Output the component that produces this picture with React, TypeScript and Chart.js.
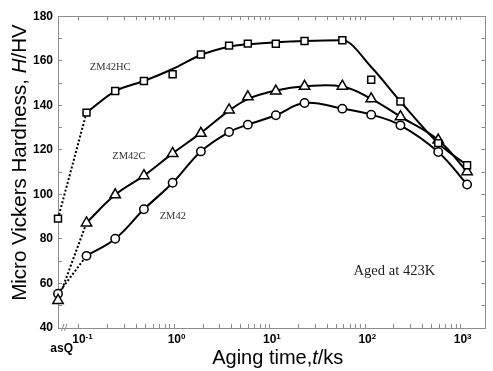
import React, { useEffect, useRef } from 'react';
import { Chart, registerables } from 'chart.js';

Chart.register(...registerables);

// ---------- data ----------
const agingTimes = [0.12, 0.24, 0.48, 0.96, 1.9, 3.75, 5.9, 11.6, 23.2, 57.8, 116, 235, 585, 1175];
const asQTime = 0.0603; // "asQ" (as-quenched) state, drawn at the left end of the axis

const zm42hcHardness = [136.7, 146.4, 150.9, 153.9, 162.8, 166.8, 167.7, 167.6, 168.9, 169.2, 151.5, 141.7, 123.0, 113.1];
const zm42hcCurve = [136.7, 146.4, 150.9, 156.3, 162.6, 166.3, 167.4, 168.3, 168.9, 169.2, 157.2, 141.7, 123.0, 113.1];
const zm42hcAsQ = 89.1;

const zm42cHardness = [87.2, 99.8, 108.4, 118.4, 127.4, 137.9, 143.8, 146.4, 148.5, 148.6, 142.9, 134.9, 124.4, 110.2];
const zm42cCurve = [87.2, 99.8, 108.4, 118.4, 127.6, 137.6, 142.8, 146.6, 148.5, 148.4, 142.9, 134.9, 124.4, 110.2];
const zm42cAsQ = 52.4;

const zm42Hardness = [72.4, 80.1, 93.3, 105.2, 119.3, 128.0, 131.3, 135.5, 141.0, 138.5, 135.8, 131.0, 119.0, 104.4];
const zm42AsQ = 55.4;

const xTickValues = [
  0.1, 0.2, 0.3, 0.4, 0.5, 0.6, 0.7, 0.8, 0.9,
  1, 2, 3, 4, 5, 6, 7, 8, 9,
  10, 20, 30, 40, 50, 60, 70, 80, 90,
  100, 200, 300, 400, 500, 600, 700, 800, 900,
  1000,
];
const decadeExponents = [-1, 0, 1, 2, 3];
const yMin = 40;
const yMax = 180;
const yStep = 10;
const yLabelStep = 20;
const xMin = 0.0603;
const xMax = 1832;

const seriesLabels = [
  { text: 'ZM42HC', x: 0.2126, y: 156.9 },
  { text: 'ZM42C', x: 0.334, y: 117.1 },
  { text: 'ZM42', x: 0.963, y: 90.4 },
];
const conditionLabel = { text: 'Aged at 423K', x: 203, y: 65.4 };

const xTitleParts = [
  { text: 'Aging time,', italic: false },
  { text: 't', italic: true },
  { text: '/ks', italic: false },
];
const yTitleParts = [
  { text: 'Micro Vickers Hardness, ', italic: false },
  { text: 'H', italic: true },
  { text: '/HV', italic: false },
];

// ---------- styles ----------
const SANS = '"Liberation Sans", Arial, Helvetica, sans-serif';
const SERIF = '"Liberation Serif", "Times New Roman", serif';
const AXIS_COLOR = '#8c8c8c';
const INK = '#000000';

const pts = (xs: number[], ys: number[]) => xs.map((x, i) => ({ x, y: ys[i] }));

function drawParts(ctx: CanvasRenderingContext2D, parts: { text: string; italic: boolean }[], size: number, cx: number, baseline: number) {
  const fontOf = (it: boolean) => `${it ? 'italic ' : ''}${size}px ${SANS}`;
  let total = 0;
  for (const p of parts) {
    ctx.font = fontOf(p.italic);
    total += ctx.measureText(p.text).width;
  }
  let x = cx - total / 2;
  ctx.textAlign = 'left';
  ctx.textBaseline = 'alphabetic';
  for (const p of parts) {
    ctx.font = fontOf(p.italic);
    ctx.fillText(p.text, x, baseline);
    x += ctx.measureText(p.text).width;
  }
}

const decorPlugin = {
  id: 'decor',
  afterDraw(chart: any) {
    const { ctx, chartArea: ca, scales } = chart;
    const xs = scales.x;
    const ys = scales.y;
    ctx.save();

    // axis break mark "//"
    ctx.strokeStyle = AXIS_COLOR;
    ctx.lineWidth = 1;
    for (const dx of [3.5, 6.5]) {
      ctx.beginPath();
      ctx.moveTo(ca.left + dx, ca.bottom + 3);
      ctx.lineTo(ca.left + dx + 2.5, ca.bottom - 4);
      ctx.stroke();
    }

    // decade labels 10^n
    ctx.fillStyle = INK;
    ctx.textBaseline = 'alphabetic';
    ctx.textAlign = 'left';
    for (const e of decadeExponents) {
      const px = xs.getPixelForValue(Math.pow(10, e));
      ctx.font = `bold 12px ${SANS}`;
      const w = ctx.measureText('10').width;
      ctx.fillText('10', px - w / 2, ca.bottom + 15);
      ctx.font = `bold 8px ${SANS}`;
      ctx.fillText(String(e), px + w / 2, ca.bottom + 10.5);
    }
    // asQ label
    ctx.font = `bold 12px ${SANS}`;
    ctx.textAlign = 'center';
    ctx.fillText('asQ', xs.getPixelForValue(asQTime) + 3.7, ca.bottom + 24);

    // axis titles
    ctx.fillStyle = INK;
    drawParts(ctx, xTitleParts, 20, (ca.left + ca.right) / 2 + 6, ca.bottom + 36);
    ctx.save();
    ctx.translate(26, (ca.top + ca.bottom) / 2 - 9.5);
    ctx.rotate(-Math.PI / 2);
    drawParts(ctx, yTitleParts, 20.5, 0, 0);
    ctx.restore();

    // series labels
    ctx.fillStyle = '#333333';
    ctx.textAlign = 'center';
    ctx.textBaseline = 'middle';
    ctx.font = `10.5px ${SERIF}`;
    for (const l of seriesLabels) {
      ctx.fillText(l.text, xs.getPixelForValue(l.x), ys.getPixelForValue(l.y));
    }
    ctx.fillStyle = '#222222';
    ctx.font = `14.6px ${SERIF}`;
    ctx.fillText(conditionLabel.text, xs.getPixelForValue(conditionLabel.x), ys.getPixelForValue(conditionLabel.y));

    ctx.restore();
  },
};

export default function App() {
  const canvasRef = useRef<HTMLCanvasElement | null>(null);

  useEffect(() => {
    if (!canvasRef.current) return;

    const curve = (data: { x: number; y: number }[], monotone: boolean) => ({
      data,
      showLine: true,
      borderColor: INK,
      borderWidth: 2,
      pointRadius: 0,
      tension: 0.4,
      cubicInterpolationMode: monotone ? 'monotone' : 'default',
      fill: false,
      clip: false as const,
      order: 2,
    });
    const dotted = (data: { x: number; y: number }[]) => ({
      data,
      showLine: true,
      borderColor: INK,
      borderWidth: 2,
      borderDash: [2, 2],
      pointRadius: 0,
      tension: 0,
      fill: false,
      clip: false as const,
      order: 2,
    });
    const markers = (data: { x: number; y: number }[], style: string, r: number) => ({
      data,
      showLine: false,
      pointStyle: style,
      pointRadius: r,
      pointBorderWidth: 1.5,
      pointBorderColor: INK,
      pointBackgroundColor: '#ffffff',
      clip: false as const,
      order: 0,
    });

    const tickGrid = (len: number) => ({
      drawOnChartArea: false,
      drawTicks: true,
      tickLength: len,
      color: AXIS_COLOR,
      lineWidth: 1,
    });
    const border = { display: true, color: AXIS_COLOR, width: 1 };

    const chart = new Chart(canvasRef.current, {
      type: 'scatter',
      data: {
        datasets: [
          dotted([{ x: asQTime, y: zm42hcAsQ }, { x: agingTimes[0], y: zm42hcHardness[0] }]),
          dotted([{ x: asQTime, y: zm42cAsQ }, { x: agingTimes[0], y: zm42cHardness[0] }]),
          dotted([{ x: asQTime, y: zm42AsQ }, { x: agingTimes[0], y: zm42Hardness[0] }]),
          curve(pts(agingTimes, zm42hcCurve), true),
          curve(pts(agingTimes, zm42cCurve), false),
          curve(pts(agingTimes, zm42Hardness), false),
          markers([{ x: asQTime, y: zm42hcAsQ }, ...pts(agingTimes, zm42hcHardness)], 'rect', 4.9),
          markers([{ x: asQTime, y: zm42cAsQ }, ...pts(agingTimes, zm42cHardness)], 'triangle', 6),
          markers([{ x: asQTime, y: zm42AsQ }, ...pts(agingTimes, zm42Hardness)], 'circle', 4.2),
        ] as any,
      },
      options: {
        animation: false,
        responsive: true,
        maintainAspectRatio: false,
        layout: { padding: 0 },
        events: [],
        plugins: { legend: { display: false }, tooltip: { enabled: false }, title: { display: false } },
        scales: {
          x: {
            type: 'logarithmic',
            position: 'bottom',
            min: xMin,
            max: xMax,
            afterBuildTicks: (s: any) => { s.ticks = xTickValues.map((v) => ({ value: v })); },
            afterFit: (s: any) => { s.height = 43; },
            ticks: { display: false },
            grid: tickGrid(-4),
            border,
          },
          x2: {
            type: 'logarithmic',
            position: 'top',
            display: true,
            min: xMin,
            max: xMax,
            afterBuildTicks: (s: any) => { s.ticks = xTickValues.map((v) => ({ value: v })); },
            afterFit: (s: any) => { s.height = 16; },
            ticks: { display: false },
            grid: tickGrid(-4),
            border,
          },
          y: {
            type: 'linear',
            position: 'left',
            min: yMin,
            max: yMax,
            afterFit: (s: any) => { s.width = 58; },
            ticks: {
              stepSize: yStep,
              padding: 9,
              color: INK,
              font: { family: SANS, size: 12, weight: 'bold' },
              callback: (v: any) => (Number(v) % yLabelStep === 0 ? String(v) : ''),
            },
            grid: tickGrid(-4),
            border,
          },
          y2: {
            type: 'linear',
            position: 'right',
            display: true,
            min: yMin,
            max: yMax,
            afterFit: (s: any) => { s.width = 1; },
            ticks: { display: false, stepSize: yStep },
            grid: tickGrid(-4),
            border,
          },
        },
      } as any,
      plugins: [decorPlugin],
    });

    return () => chart.destroy();
  }, []);

  return (
    <div style={{ position: 'fixed', left: 0, top: 0, width: 493, height: 371, background: '#fff' }}>
      <canvas ref={canvasRef} />
    </div>
  );
}
